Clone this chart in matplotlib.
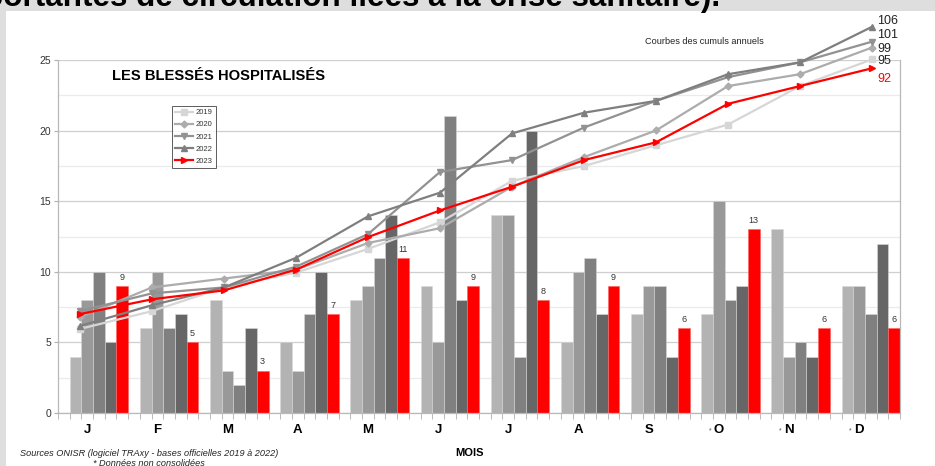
"""Blessés hospitalisés : barres mensuelles 2019-2023 + courbes des cumuls annuels."""
import numpy as np
import matplotlib
matplotlib.use("Agg")
import matplotlib.pyplot as plt
from matplotlib.patches import Rectangle

plt.rcParams.update({"font.family": ["Liberation Sans", "DejaVu Sans"]})

MONTHS = ["J", "F", "M", "A", "M", "J", "J", "A", "S", "O", "N", "D"]
STARRED = [False] * 9 + [True, True, True]
YEARS = ["2019", "2020", "2021", "2022", "2023"]

v2019 = [4, 6, 8, 5, 8, 9, 14, 5, 7, 7, 13, 9]
v2020 = [8, 10, 3, 3, 9, 5, 14, 10, 9, 15, 4, 9]
v2021 = [10, 6, 2, 7, 11, 21, 4, 11, 9, 8, 5, 7]
v2022 = [5, 7, 6, 10, 14, 8, 20, 7, 4, 9, 4, 12]
v2023 = [9, 5, 3, 7, 11, 9, 8, 9, 6, 13, 6, 6]
SERIES = [v2019, v2020, v2021, v2022, v2023]

BAR_COLORS = ["#b3b3b3", "#999999", "#808080", "#666666", "#ff0000"]
LINE_COLORS = ["#d6d6d6", "#acacac", "#929292", "#7f7f7f", "#ff0000"]
MARKERS = ["s", "D", "v", "^", ">"]
MSIZE = [5, 3.5, 5, 5, 5]
# end label offsets (points)
END_OFF = [(4, -1.5), (4, -1), (4, 4.5), (4, 4), (4, -8)]

W, H = 935, 466
fig = plt.figure(figsize=(W / 100, H / 100), dpi=100, facecolor="#dedede")
fig.patches.append(Rectangle((6 / W, 0), 1, 1 - 11 / H, transform=fig.transFigure,
                             facecolor="white", edgecolor="none", zorder=-10))

# slide title strip, cut by the screenshot
fig.text(-16 / W, 1 - 6 / H, "portantes de circulation liées à la crise sanitaire).",
         fontsize=22.6, fontweight="bold", color="black", va="baseline", ha="left", zorder=-5)

pos = [58 / W, 53 / H, 842 / W, 353 / H]
ax = fig.add_axes(pos)
ax.set_facecolor("none")

n = len(MONTHS)
for i, vals in enumerate(SERIES):
    x = np.arange(n) * 6 + 1.5 + i
    ax.bar(x, vals, width=1.0, color=BAR_COLORS[i], edgecolor="#d8d8d8" if i < 4 else "#ff6060",
           lw=0.4, zorder=2)
    if i == 4:
        for xi, v in zip(x, vals):
            ax.annotate(str(v), (xi, v), xytext=(0, 3), textcoords="offset points",
                        ha="center", va="bottom", fontsize=6.5, color="#333333")

ax.set_xlim(0, n * 6)
ax.set_ylim(0, 25)
ax.set_yticks(np.arange(0, 26, 5))
ax.set_yticks(np.arange(2.5, 25, 5), minor=True)
ax.yaxis.grid(True, which="major", color="#cfcfcf", lw=0.9, zorder=0)
ax.yaxis.grid(True, which="minor", color="#ebebeb", lw=0.9, zorder=0)
ax.set_axisbelow(True)
ax.tick_params(axis="y", which="major", length=3, color="#b0b0b0", labelsize=7.5,
               labelcolor="#333333", pad=2)
ax.tick_params(axis="y", which="minor", length=0)

ax.set_xticks(np.arange(n) * 6 + 2.5)
ax.set_xticklabels(MONTHS, fontsize=9.5, fontweight="bold")
ax.set_xticks(np.arange(0, n * 6 + 1, 1), minor=True)
ax.tick_params(axis="x", which="major", length=0, pad=8)
ax.tick_params(axis="x", which="minor", length=4, color="#b0b0b0")
for m, st in enumerate(STARRED):
    if st:
        ax.text(m * 6 + 1.75, -0.04, "*", transform=ax.get_xaxis_transform(),
                fontsize=5, color="#555555", ha="center", va="top")

for s in ["left", "bottom", "right"]:
    ax.spines[s].set_color("#b8b8b8")
    ax.spines[s].set_linewidth(0.9)
ax.spines["top"].set_visible(False)

# cumulative curves on their own hidden axes
ax2 = fig.add_axes(pos)
ax2.set_facecolor("none")
ax2.axis("off")
ax2.set_xlim(-0.3056, 11.389)
ax2.set_ylim(-24.4, 94.8)
handles = []
for i, vals in enumerate(SERIES):
    cum = np.cumsum(vals)
    z = 5 if i == 4 else 3
    ln, = ax2.plot(np.arange(n), cum, color=LINE_COLORS[i], lw=1.6, marker=MARKERS[i],
                   ms=MSIZE[i], clip_on=False, zorder=z)
    handles.append(ln)
    ax2.annotate(str(cum[-1]), (n - 1, cum[-1]), xytext=END_OFF[i], textcoords="offset points",
                 ha="left", va="center", fontsize=9,
                 color="#ff0000" if i == 4 else "#222222", annotation_clip=False)

leg = fig.legend(handles, YEARS, loc="upper left", bbox_to_anchor=(172 / W, 1 - 106 / H),
                 fontsize=5.5, frameon=True, fancybox=False, borderaxespad=0,
                 handlelength=2.3, labelspacing=0.62, borderpad=0.4, handletextpad=0.4)
leg.get_frame().set_edgecolor("#333333")
leg.get_frame().set_linewidth(0.7)
for t in leg.get_texts():
    t.set_color("#333333")

fig.text(112 / W, 1 - 76 / H, "LES BLESSÉS HOSPITALISÉS", fontsize=10.6, fontweight="bold",
         va="center", ha="left")
fig.text(645 / W, 1 - 41 / H, "Courbes des cumuls annuels", fontsize=6.6, va="center",
         ha="left", color="#222222")
fig.text(470 / W, 1 - 453 / H, "MOIS", fontsize=8, fontweight="bold", va="center", ha="center")
fig.text(20 / W, 1 - 453 / H, "Sources ONISR (logiciel TRAxy - bases officielles 2019 à 2022)",
         fontsize=6.55, style="italic", va="center", ha="left", color="#222222")
fig.text(93 / W, 1 - 463 / H, "* Données non consolidées", fontsize=6.6, style="italic",
         va="center", ha="left", color="#222222")

fig.savefig("out.png", dpi=100, facecolor=fig.get_facecolor())
